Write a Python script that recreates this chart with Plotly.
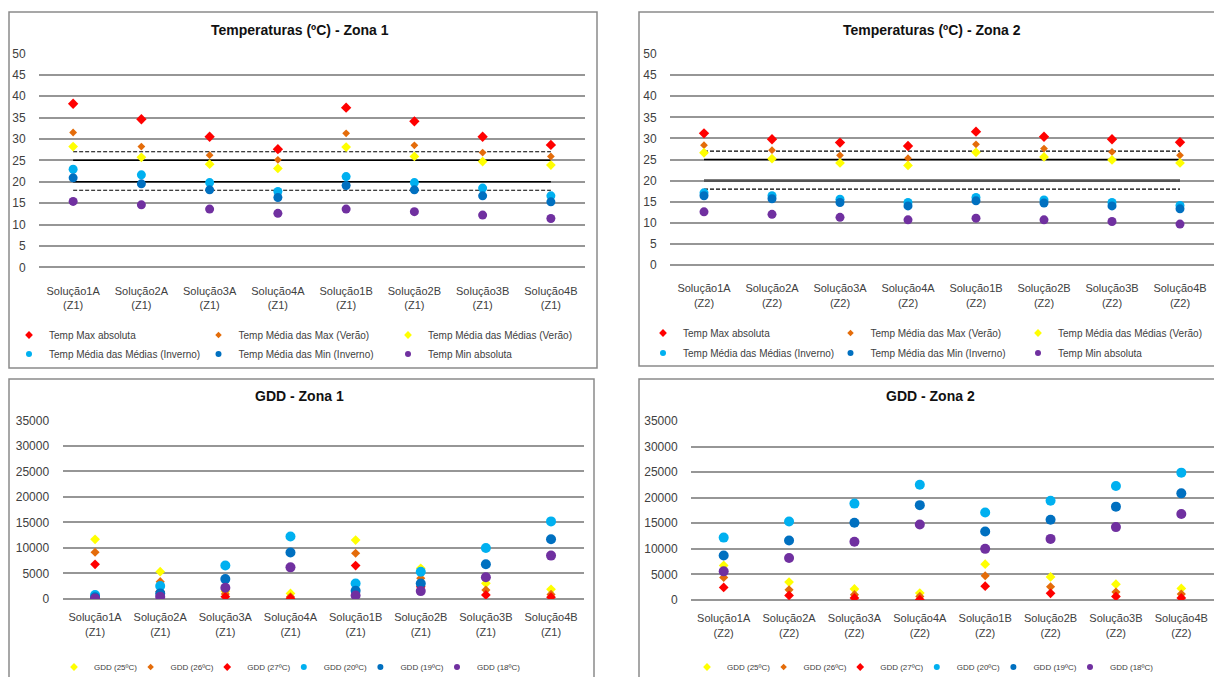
import plotly.graph_objects as go

W, H = 1222, 677

cats_z1 = ["Solução1A<br>(Z1)", "Solução2A<br>(Z1)", "Solução3A<br>(Z1)", "Solução4A<br>(Z1)",
           "Solução1B<br>(Z1)", "Solução2B<br>(Z1)", "Solução3B<br>(Z1)", "Solução4B<br>(Z1)"]
cats_z2 = ["Solução1A<br>(Z2)", "Solução2A<br>(Z2)", "Solução3A<br>(Z2)", "Solução4A<br>(Z2)",
           "Solução1B<br>(Z2)", "Solução2B<br>(Z2)", "Solução3B<br>(Z2)", "Solução4B<br>(Z2)"]

temp_names = ["Temp Max absoluta", "Temp Média das Max (Verão)", "Temp Média das Médias (Verão)",
              "Temp Média das Médias (Inverno)", "Temp Média das Min (Inverno)", "Temp Min absoluta"]

# Zona 1 temperatures
z1_max_abs = [38.2, 34.6, 30.5, 27.6, 37.3, 34.1, 30.5, 28.6]
z1_med_max = [31.5, 28.2, 26.2, 25.1, 31.3, 28.5, 26.8, 25.9]
z1_med_ver = [28.2, 25.7, 24.1, 23.1, 28.1, 25.9, 24.7, 23.9]
z1_med_inv = [22.9, 21.6, 19.8, 17.7, 21.2, 19.8, 18.5, 16.7]
z1_min_inv = [20.9, 19.5, 18.1, 16.3, 19.1, 18.1, 16.7, 15.3]
z1_min_abs = [15.4, 14.6, 13.6, 12.6, 13.6, 13.0, 12.2, 11.4]

# Zona 2 temperatures
z2_max_abs = [31.2, 29.8, 29.0, 28.2, 31.6, 30.4, 29.8, 29.1]
z2_med_max = [28.4, 27.2, 26.0, 25.3, 28.6, 27.6, 26.8, 26.0]
z2_med_ver = [26.6, 25.2, 24.2, 23.6, 26.7, 25.6, 24.9, 24.2]
z2_med_inv = [17.1, 16.4, 15.6, 14.8, 16.0, 15.4, 14.8, 14.1]
z2_min_inv = [16.4, 15.7, 14.8, 14.0, 15.2, 14.7, 14.0, 13.3]
z2_min_abs = [12.6, 12.0, 11.3, 10.7, 11.1, 10.7, 10.3, 9.7]

# comfort reference lines (value, dash, width, colour)
ref_z1 = [(27, "dash", 1.2, "#000000"), (25, "solid", 1.6, "#000000"),
          (20, "solid", 1.6, "#000000"), (18, "dash", 1.2, "#000000")]
ref_z2 = [(27, "dash", 1.2, "#000000"), (25, "solid", 1.6, "#000000"),
          (20, "solid", 2.6, "#555555"), (18, "dash", 1.2, "#000000")]

gdd_names = ["GDD (25ºC)", "GDD (26ºC)", "GDD (27ºC)", "GDD (20ºC)", "GDD (19ºC)", "GDD (18ºC)"]

# GDD Zona 1
g1_25 = [11700, 5350, 1500, 1100, 11550, 6000, 3070, 1900]
g1_26 = [9150, 3400, 1000, 450, 8950, 4050, 1750, 900]
g1_27 = [6800, 1450, 450, 150, 6550, 2400, 800, 350]
g1_20 = [800, 2550, 6550, 12250, 3050, 5350, 10000, 15200]
g1_19 = [330, 1100, 3900, 9100, 1600, 3050, 6800, 11700]
g1_18 = [80, 450, 2200, 6200, 700, 1550, 4250, 8500]

# GDD Zona 2
g2_25 = [6750, 3500, 2150, 1350, 7000, 4500, 3100, 2250]
g2_26 = [4400, 2000, 1050, 700, 4750, 2600, 1550, 1150]
g2_27 = [2450, 900, 400, 80, 2700, 1300, 700, 400]
g2_20 = [12200, 15350, 18850, 22550, 17100, 19400, 22300, 24900]
g2_19 = [8700, 11650, 15100, 18550, 13400, 15700, 18250, 20850]
g2_18 = [5600, 8200, 11400, 14750, 10000, 11950, 14250, 16800]

RED, ORANGE, YELLOW = "#FF0000", "#E46C0A", "#FFFF00"
LBLUE, DBLUE, PURPLE = "#00B0F0", "#0070C0", "#7030A0"

temp_styles = [(RED, "diamond", 8), (ORANGE, "diamond", 6), (YELLOW, "diamond", 7.5),
               (LBLUE, "circle", 9), (DBLUE, "circle", 9), (PURPLE, "circle", 9)]
gdd_styles = [(YELLOW, "diamond", 7.5), (ORANGE, "diamond", 7), (RED, "diamond", 7.5),
              (LBLUE, "circle", 10), (DBLUE, "circle", 10), (PURPLE, "circle", 10)]
legend_sizes = [6, 5, 6, 6, 6, 6]

FONT = "Liberation Sans, Arial, sans-serif"
GRID = "#969696"
OFF = 8  # page offset of the figure inside the browser window

fig = go.Figure()

def px_x(v):
    return (v - OFF) / W

def px_y(v):
    return 1 - (v - OFF) / H

panels = [
    # xaxis, yaxis, x0, x1, ytop, ybottom, ticklen
    ("x", "y", 39, 585, 53.3, 267.3, 13),
    ("x2", "y2", 670, 1214, 54, 265, 13),
    ("x3", "y3", 62.5, 583.6, 420.3, 599, 8),
    ("x4", "y4", 691, 1214, 421, 600, 8),
]

def add_refs(cats, xa, ya, refs):
    for val, dash, width, col in refs:
        fig.add_trace(go.Scatter(x=[cats[0], cats[-1]], y=[val, val], mode="lines",
                                 line=dict(color=col, width=width, dash=("4px,2px" if dash == "dash" else "solid")),
                                 showlegend=False, hoverinfo="skip", xaxis=xa, yaxis=ya))

add_refs(cats_z1, "x", "y", ref_z1)
add_refs(cats_z2, "x2", "y2", ref_z2)

z1_series = [z1_max_abs, z1_med_max, z1_med_ver, z1_med_inv, z1_min_inv, z1_min_abs]
z2_series = [z2_max_abs, z2_med_max, z2_med_ver, z2_med_inv, z2_min_inv, z2_min_abs]
g1_series = [g1_25, g1_26, g1_27, g1_20, g1_19, g1_18]
g2_series = [g2_25, g2_26, g2_27, g2_20, g2_19, g2_18]

def add_series(cats, series, names, styles, xa, ya, legend_ids, lastwidth, ewidth):
    for i, (vals, name) in enumerate(zip(series, names)):
        col, sym, sz = styles[i]
        fig.add_trace(go.Scatter(x=cats, y=vals, mode="markers", name=name,
                                 marker=dict(color=col, symbol=sym, size=sz),
                                 showlegend=False, xaxis=xa, yaxis=ya))
    # legend entries (small swatches like the original)
    for i, name in enumerate(names):
        col, sym, sz = styles[i]
        lid = legend_ids[i]
        last = (i == len(names) - 1) or (legend_ids[i + 1] != lid)
        fig.add_trace(go.Scatter(x=[None], y=[None], mode="markers", name=name,
                                 marker=dict(color=col, symbol=sym, size=legend_sizes[i]),
                                 legend=lid, legendwidth=(lastwidth if last else ewidth),
                                 xaxis=xa, yaxis=ya))

add_series(cats_z1, z1_series, temp_names, temp_styles, "x", "y",
           ["legend"] * 3 + ["legend2"] * 3, 170, 144.5)
add_series(cats_z2, z2_series, temp_names, temp_styles, "x2", "y2",
           ["legend3"] * 3 + ["legend4"] * 3, 160, 142.5)
add_series(cats_z1, g1_series, gdd_names, gdd_styles, "x3", "y3",
           ["legend5"] * 6, 60, 31.6)
add_series(cats_z2, g2_series, gdd_names, gdd_styles, "x4", "y4",
           ["legend6"] * 6, 60, 31.6)

layout = dict(width=W, height=H, margin=dict(l=0, r=0, t=0, b=0, autoexpand=False),
              paper_bgcolor="white", plot_bgcolor="white", showlegend=True)

for k, (xa, ya, x0, x1, yt, yb, tl) in enumerate(panels):
    xname = "xaxis" if xa == "x" else "xaxis" + xa[1:]
    yname = "yaxis" if ya == "y" else "yaxis" + ya[1:]
    cats = cats_z1 if k in (0, 2) else cats_z2
    is_temp = k < 2
    layout[xname] = dict(domain=[px_x(x0), px_x(x1)], anchor=ya, type="category",
                         categoryorder="array", categoryarray=cats, range=[-0.5, 7.5],
                         showgrid=False, zeroline=False, showline=False, automargin=False,
                         ticks="outside", ticklen=tl, tickcolor="rgba(0,0,0,0)",
                         tickfont=dict(family=FONT, size=11, color="#404040"))
    layout[yname] = dict(domain=[px_y(yb), px_y(yt)], anchor=xa,
                         range=[0, 50] if is_temp else [0, 35000],
                         dtick=5 if is_temp else 5000, tickformat="d", automargin=False,
                         showgrid=True, gridcolor=GRID, gridwidth=2,
                         zeroline=True, zerolinecolor=GRID, zerolinewidth=2,
                         showline=False, ticks="outside", ticklen=10,
                         tickcolor="rgba(0,0,0,0)",
                         tickfont=dict(family=FONT, size=12, color="#404040"))

def leg(xscreen, yscreen, fsize):
    return dict(orientation="h", x=(xscreen - OFF) / W, y=px_y(yscreen), xanchor="left", yanchor="middle",
                xref="paper", yref="paper", entrywidthmode="pixels",
                itemwidth=30, bgcolor="rgba(0,0,0,0)",
                font=dict(family=FONT, size=fsize, color="#404040"), tracegroupgap=0)

layout["legend"] = leg(9, 335, 10)
layout["legend2"] = leg(9, 354, 10)
layout["legend3"] = leg(643, 333, 10)
layout["legend4"] = leg(643, 353, 10)
layout["legend5"] = leg(54, 667, 8)
layout["legend6"] = leg(687, 667, 8)

shapes = []
for (bx0, by0, bx1, by1) in [(9, 12, 597, 368), (639, 12, 1232, 366),
                             (9, 379, 594, 700), (639, 379, 1232, 700)]:
    shapes.append(dict(type="rect", xref="paper", yref="paper",
                       x0=px_x(bx0), x1=px_x(bx1), y0=px_y(by1), y1=px_y(by0),
                       line=dict(color="#8a8a8a", width=1.5), layer="below"))
layout["shapes"] = shapes

titles = [("Temperaturas (ºC) - Zona 1", 300, 30), ("Temperaturas (ºC) - Zona 2", 932, 30),
          ("GDD - Zona 1", 299, 396), ("GDD - Zona 2", 930, 396)]
layout["annotations"] = [dict(text="<b>%s</b>" % t, x=px_x(xx), y=px_y(yy), xref="paper", yref="paper",
                              showarrow=False, xanchor="center", yanchor="middle",
                              font=dict(family=FONT, size=14, color="#111111"))
                         for t, xx, yy in titles]

fig.update_layout(**layout)
fig.write_html("out.html")
